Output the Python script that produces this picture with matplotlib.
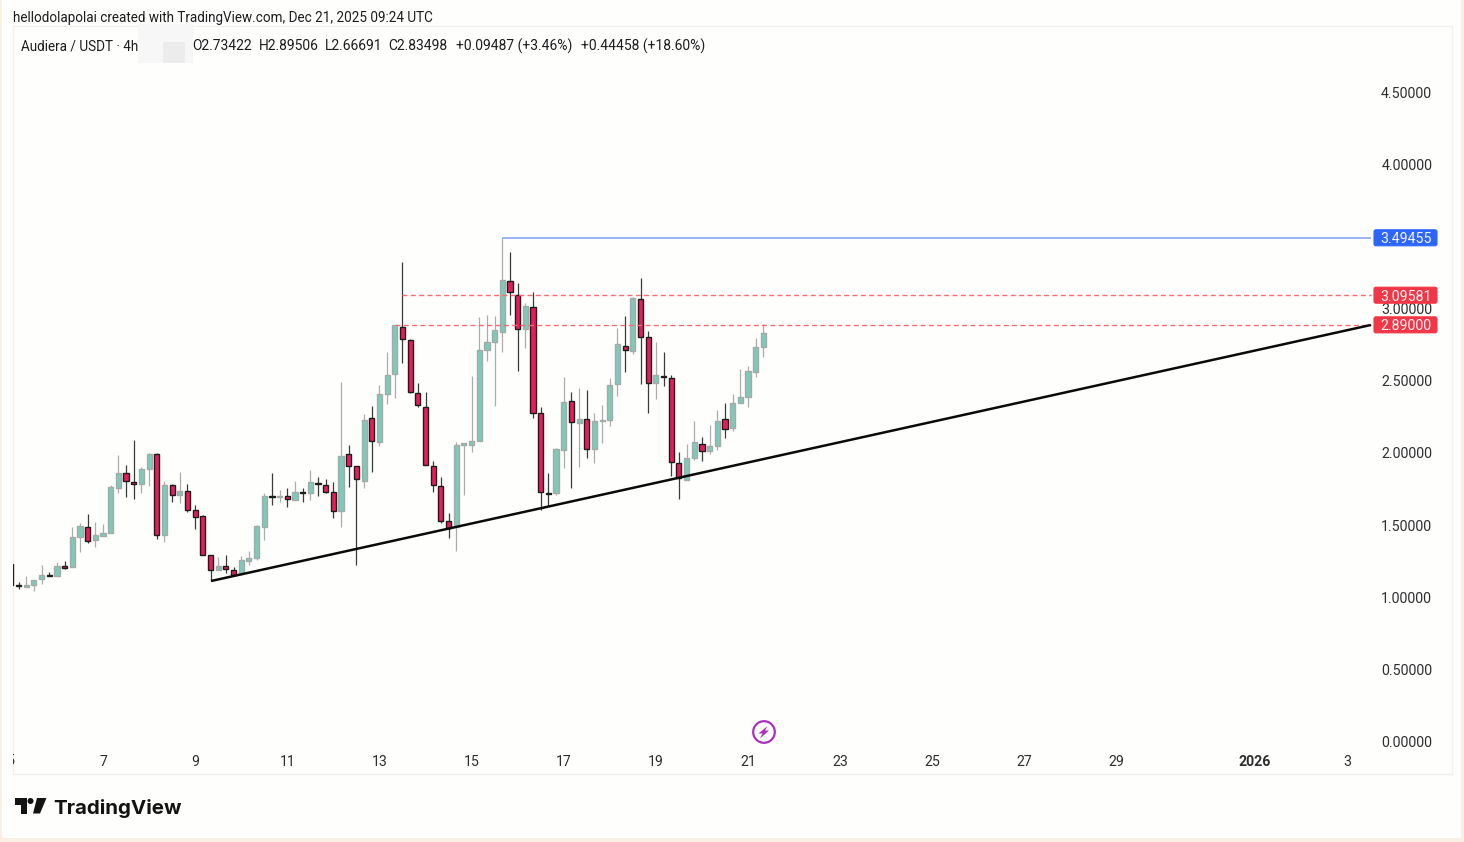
# Audiera / USDT 4h candles, TradingView style
import matplotlib
matplotlib.use("Agg")
import matplotlib.pyplot as plt
from matplotlib.patches import Rectangle, Circle, Polygon, FancyBboxPatch

plt.rcParams['font.family'] = ['Roboto', 'DejaVu Sans']

# 4h candles, first one is the cut off one on the left edge
opens = [1.23, 1.08, 1.072, 1.086, 1.125, 1.150, 1.146, 1.218, 1.206, 1.414, 1.484, 1.394, 1.426,
         1.447, 1.757, 1.859, 1.799, 1.782, 1.889, 1.995, 1.428, 1.78, 1.711, 1.734, 1.602, 1.56,
         1.289, 1.188, 1.213, 1.19, 1.164, 1.248, 1.273, 1.488, 1.70, 1.695, 1.701, 1.676, 1.727,
         1.72, 1.789, 1.775, 1.727, 1.595, 1.991, 1.91, 1.806, 2.241, 2.079, 2.407, 2.546, 2.877,
         2.782, 2.419, 2.322, 1.91, 1.773, 1.53, 1.488, 2.053, 2.058, 2.081, 2.715, 2.773, 2.843,
         3.194, 3.1, 2.859, 3.012, 2.28, 1.725, 1.72, 2.021, 2.359, 2.206, 2.234, 2.025, 2.222,
         2.229, 2.477, 2.741, 2.706, 3.072, 2.808, 2.486, 2.535, 2.523, 1.928, 1.813, 1.968, 2.065,
         2.012, 2.049, 2.234, 2.171, 2.345, 2.391, 2.563, 2.734]
highs = [1.234, 1.102, 1.148, 1.116, 1.222, 1.176, 1.245, 1.248, 1.486, 1.516, 1.579, 1.519, 1.505,
         1.778, 1.984, 1.917, 2.09, 1.90, 2.002, 1.998, 1.808, 1.785, 1.868, 1.785, 1.639, 1.567,
         1.289, 1.28, 1.292, 1.211, 1.285, 1.322, 1.50, 1.72, 1.863, 1.743, 1.755, 1.808, 1.755,
         1.882, 1.831, 1.817, 1.796, 2.495, 2.056, 1.91, 2.271, 2.326, 2.47, 2.701, 2.89, 3.324,
         2.789, 2.484, 2.421, 1.947, 1.831, 1.581, 2.074, 2.072, 2.535, 2.942, 2.961, 2.951, 3.49455,
         3.394, 3.183, 3.044, 3.116, 2.317, 1.863, 2.032, 2.525, 2.426, 2.449, 2.438, 2.275, 2.333,
         2.519, 2.87, 2.951, 3.083, 3.218, 2.85, 2.769, 2.699, 2.539, 2.009, 2.062, 2.225, 2.109,
         2.197, 2.299, 2.345, 2.41, 2.581, 2.604, 2.796, 2.89506]
lows = [1.079, 1.056, 1.07, 1.044, 1.09, 1.146, 1.146, 1.194, 1.206, 1.312, 1.377, 1.35, 1.426,
        1.447, 1.72, 1.697, 1.681, 1.725, 1.771, 1.405, 1.382, 1.662, 1.65, 1.593, 1.47, 1.292,
        1.113, 1.185, 1.169, 1.15, 1.155, 1.222, 1.257, 1.396, 1.639, 1.662, 1.623, 1.671, 1.662,
        1.674, 1.701, 1.72, 1.551, 1.488, 1.766, 1.222, 1.759, 1.868, 2.051, 2.34, 2.38, 2.627,
        2.417, 2.317, 1.917, 1.731, 1.516, 1.407, 1.319, 1.708, 2.009, 2.081, 2.641, 2.329, 2.704,
        2.958, 2.569, 2.727, 2.241, 1.604, 1.632, 1.708, 1.894, 1.755, 1.90, 1.965, 1.928, 2.072,
        2.19, 2.396, 2.565, 2.688, 2.477, 2.28, 2.375, 2.465, 1.84, 1.678, 1.81, 1.95, 1.944,
        1.993, 2.023, 2.102, 2.153, 2.345, 2.322, 2.53, 2.66691]
closes = [1.08, 1.076, 1.086, 1.116, 1.153, 1.146, 1.215, 1.199, 1.414, 1.491, 1.391, 1.433, 1.442,
          1.762, 1.863, 1.803, 1.782, 1.889, 1.991, 1.428, 1.78, 1.711, 1.734, 1.604, 1.558, 1.292,
          1.188, 1.213, 1.192, 1.155, 1.255, 1.269, 1.493, 1.701, 1.695, 1.70, 1.678, 1.727, 1.722,
          1.80, 1.782, 1.729, 1.595, 1.979, 1.912, 1.817, 2.231, 2.081, 2.407, 2.539, 2.887, 2.792,
          2.424, 2.333, 1.917, 1.775, 1.53, 1.477, 2.056, 2.067, 2.081, 2.715, 2.769, 2.856, 3.201,
          3.116, 2.859, 3.023, 2.275, 1.727, 1.718, 2.025, 2.356, 2.213, 2.234, 2.028, 2.22, 2.229,
          2.47, 2.755, 2.715, 3.079, 2.808, 2.488, 2.544, 2.53, 1.935, 1.824, 1.963, 2.074, 2.012,
          2.051, 2.225, 2.167, 2.345, 2.389, 2.567, 2.738, 2.83498]
# day number of the first (cut off) candle, 6 candles a day
first_day = 5.0
days = [first_day + i / 6 for i in range(len(opens))]

price_ticks = [0, 0.5, 1, 1.5, 2, 2.5, 3, 3.5, 4, 4.5]
date_ticks = [7, 9, 11, 13, 15, 17, 19, 21, 23, 25, 27, 29, 32, 34]
date_labels = ['7', '9', '11', '13', '15', '17', '19', '21', '23', '25', '27', '29', '2026', '3']

trend_x = [9.344, 34.52]
trend_y = [1.111, 2.889]
resistance_high = 3.49455
resistance_1 = 3.09581
resistance_2 = 2.89

legend_names = ['O2.73422', 'H2.89506', 'L2.66691', 'C2.83498', '+0.09487 (+3.46%)', '+0.44458 (+18.60%)']

W, H = 1464, 842
GREEN, GREEN_EDGE, GREEN_WICK = '#7dcab9', '#a3aaa7', '#acacac'
RED, RED_EDGE, RED_WICK = '#e81c5a', '#1c1c1c', '#3a3a3a'
TEXT = '#2e2e30'

fig = plt.figure(figsize=(W / 100, H / 100), dpi=100, facecolor='#fbeee3')
# page
fig.add_artist(Rectangle((2 / W, 4 / H), 1459 / W, 838 / H, transform=fig.transFigure,
                         fc='#fefefd', ec='none', zorder=-5))

# main panel, 13..1452 px across and 26..774 px down
ax = fig.add_axes([13 / W, 1 - 774 / H, 1439 / W, 748 / H], facecolor='#fefefd')
for s in ax.spines.values():
    s.set_color('#f1f0ee')
    s.set_linewidth(1)

ax.set_xticks(date_ticks)
ax.set_xticklabels(date_labels, fontsize=10.2, color=TEXT)
ax.get_xticklabels()[-2].set_fontweight('bold')
ax.tick_params(axis='x', length=0, pad=-13.7)
ax.yaxis.tick_right()
ax.set_yticks(price_ticks)
ax.set_yticklabels(['%.5f' % p for p in price_ticks], fontsize=10.2, color=TEXT, ha='right')
ax.tick_params(axis='y', length=0, pad=-14.2)
# limits after the ticks, set_xticks would widen them
ax.set_xlim(5.046, 36.28)
ax.set_ylim(-0.229, 4.965)

# the 5 is cut by the panel edge
ax.text(5, 13 / 748, '5', transform=ax.get_xaxis_transform(), fontsize=10.2, color=TEXT,
        ha='center', va='center', clip_on=True)

# candles
for d, o, h, l, c in zip(days, opens, highs, lows, closes):
    up = c >= o
    ax.vlines(d, l, h, color=GREEN_WICK if up else RED_WICK, linewidth=0.9, zorder=2)
    ax.bar(d, abs(c - o), bottom=min(o, c), width=0.112, color=GREEN if up else RED,
           edgecolor=GREEN_EDGE if up else RED_EDGE, linewidth=1.0, zorder=3)

# drawings
ax.plot(trend_x, trend_y, color='#0a0a0a', linewidth=1.8, zorder=5, solid_capstyle='butt')
right_end = trend_x[1]
ax.hlines(resistance_high, days[64], right_end, color='#7d9ff5', linewidth=1.1, zorder=4)
ax.hlines(resistance_1, days[51], right_end, color='#fb6a72', linewidth=1.0,
          linestyles=(0, (3.6, 2.4)), zorder=4)
ax.hlines(resistance_2, days[50], right_end, color='#fb6a72', linewidth=1.0,
          linestyles=(0, (3.6, 2.4)), zorder=4)

# overlay in pixels for header, tags and logo
ov = fig.add_axes([0, 0, 1, 1], facecolor='none')
ov.set_xlim(0, W)
ov.set_ylim(H, 0)
ov.axis('off')


def py(price):
    return 741 - 144 * price


for price, col in [(resistance_high, '#2d66fb'), (resistance_1, '#f23645'), (resistance_2, '#f23645')]:
    ov.add_patch(FancyBboxPatch((1374, py(price) - 8), 63, 16, boxstyle='round,pad=0,rounding_size=2',
                                fc=col, ec=col, linewidth=0.8, zorder=5))
    ov.text(1406, py(price), '%.5f' % price, color='#f5f5f8', fontsize=10.2, ha='center',
            va='center_baseline', zorder=6)

# header
ov.text(13, 16.5, 'hellodolapolai created with TradingView.com, Dec 21, 2025 09:24 UTC',
        fontsize=9.75, color='#1c1c1e', va='center_baseline')
ov.text(21, 45, 'Audiera / USDT · 4h', fontsize=9.75, color='#1c1c1e', va='center_baseline')
for x, t in zip([192, 258.5, 325, 388, 456, 581], legend_names):
    ov.text(x, 45, t, fontsize=10, color='#1c1c1e', va='center_baseline')

# blurred bit in the legend
ov.add_patch(Rectangle((138, 24), 55, 39, fc='#f7f7f7', ec='none', zorder=4))
ov.add_patch(Rectangle((163, 42), 22, 21, fc='#ececec', ec='none', zorder=4))

# flash icon
ov.add_patch(Circle((764, 732), 10.8, fc='none', ec='#ad2fbd', linewidth=1.6))
ov.add_patch(Polygon([(767.5, 726), (758.5, 733.5), (762.5, 733.5), (760, 738.5), (769, 730.5), (765, 730.5)],
                     closed=True, fc='#ad2fbd', ec='none'))

# logo
ov.add_patch(Polygon([(14.7, 798), (27, 798), (27, 813.5), (20.5, 813.5), (20.5, 804.5), (14.7, 804.5)],
                     closed=True, fc='#131313', ec='none'))
ov.add_patch(Circle((30.5, 801), 3, fc='#131313', ec='none'))
ov.add_patch(Polygon([(37, 798), (46.5, 798), (40, 813.5), (33, 813.5)], closed=True, fc='#131313', ec='none'))
ov.text(53, 806.5, 'TradingView', fontsize=14.8, color='#131313', fontweight='bold', family='Inter',
        va='center_baseline')

fig.savefig('out.png', dpi=100, facecolor=fig.get_facecolor())
